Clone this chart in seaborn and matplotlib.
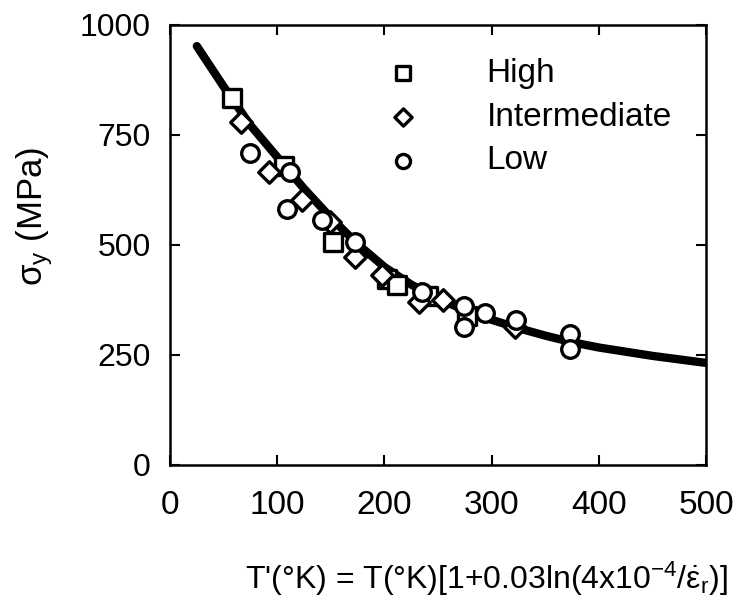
# yield stress vs temperature-compensated T' for three strain-rate groups

import matplotlib
matplotlib.use("Agg")
import matplotlib.pyplot as plt
import seaborn as sns
import numpy as np

# data
high_T = [58, 106, 152, 202, 212, 241, 277]
high_sigma = [834, 680, 507, 422, 409, 383, 339]

inter_T = [66, 92, 123, 149, 173, 198, 232, 255, 322]
inter_sigma = [780, 667, 602, 553, 473, 432, 371, 375, 314]

low_T = [75, 112, 109, 142, 173, 235, 274, 274, 294, 323, 373, 373]
low_sigma = [708, 666, 581, 557, 507, 394, 361, 314, 345, 330, 298, 263]

curve_T = [25, 50, 75, 100, 125, 150, 175, 200, 225, 250, 275, 300, 325, 350, 375, 400, 450, 500]
curve_sigma = [952, 860, 772, 700, 628, 562, 502, 450, 410, 378, 352, 330, 311, 294, 279, 267, 248, 232]

sns.set_style("ticks", {"axes.edgecolor": "k", "xtick.color": "k", "ytick.color": "k",
                        "text.color": "k", "axes.labelcolor": "k"})
plt.rcParams["font.family"] = ["Liberation Sans", "DejaVu Sans"]
plt.rcParams["mathtext.fontset"] = "custom"
plt.rcParams["mathtext.rm"] = "Liberation Sans"
plt.rcParams["mathtext.it"] = "Liberation Sans"
plt.rcParams["mathtext.default"] = "regular"

fig = plt.figure(figsize=(7.38, 6.08), dpi=100)
ax = fig.add_axes([0.2304, 0.2352, 0.7263, 0.7237])

sns.lineplot(x=curve_T, y=curve_sigma, ax=ax, color="k", linewidth=6, sort=False, zorder=2)

mk = dict(facecolor="white", edgecolor="k", linewidth=2.4, zorder=3, ax=ax)
sns.scatterplot(x=high_T, y=high_sigma, marker="s", s=160, label="High", **mk)
sns.scatterplot(x=inter_T, y=inter_sigma, marker="D", s=120, label="Intermediate", **mk)
sns.scatterplot(x=low_T, y=low_sigma, marker="o", s=160, label="Low", **mk)

ax.set_xlim(0, 500)
ax.set_ylim(0, 1000)
ax.set_xticks([0, 100, 200, 300, 400, 500])
ax.set_yticks([0, 250, 500, 750, 1000])
ax.tick_params(direction="in", length=7, width=1.5, top=True, right=True)
ax.tick_params(axis="x", labelsize=24, pad=18)
ax.tick_params(axis="y", labelsize=23, pad=14)
for sp in ax.spines.values():
    sp.set_linewidth(1.8)

ax.set_xlabel(r"T'(°K) = T(°K)[1+0.03ln(4x10$^{-4}$/$\dot{\varepsilon}_r$)]", fontsize=23)
ax.xaxis.set_label_coords(0.59, -0.215)
ax.set_ylabel(r"$\sigma_y$ (MPa)", fontsize=25)
ax.yaxis.set_label_coords(-0.215, 0.564)

ax.legend(frameon=False, loc="upper left", bbox_to_anchor=(0.348, 0.955), fontsize=24,
          markerscale=0.8, handletextpad=1.5, labelspacing=0.38, borderaxespad=0)

plt.savefig("out.png", dpi=100)
